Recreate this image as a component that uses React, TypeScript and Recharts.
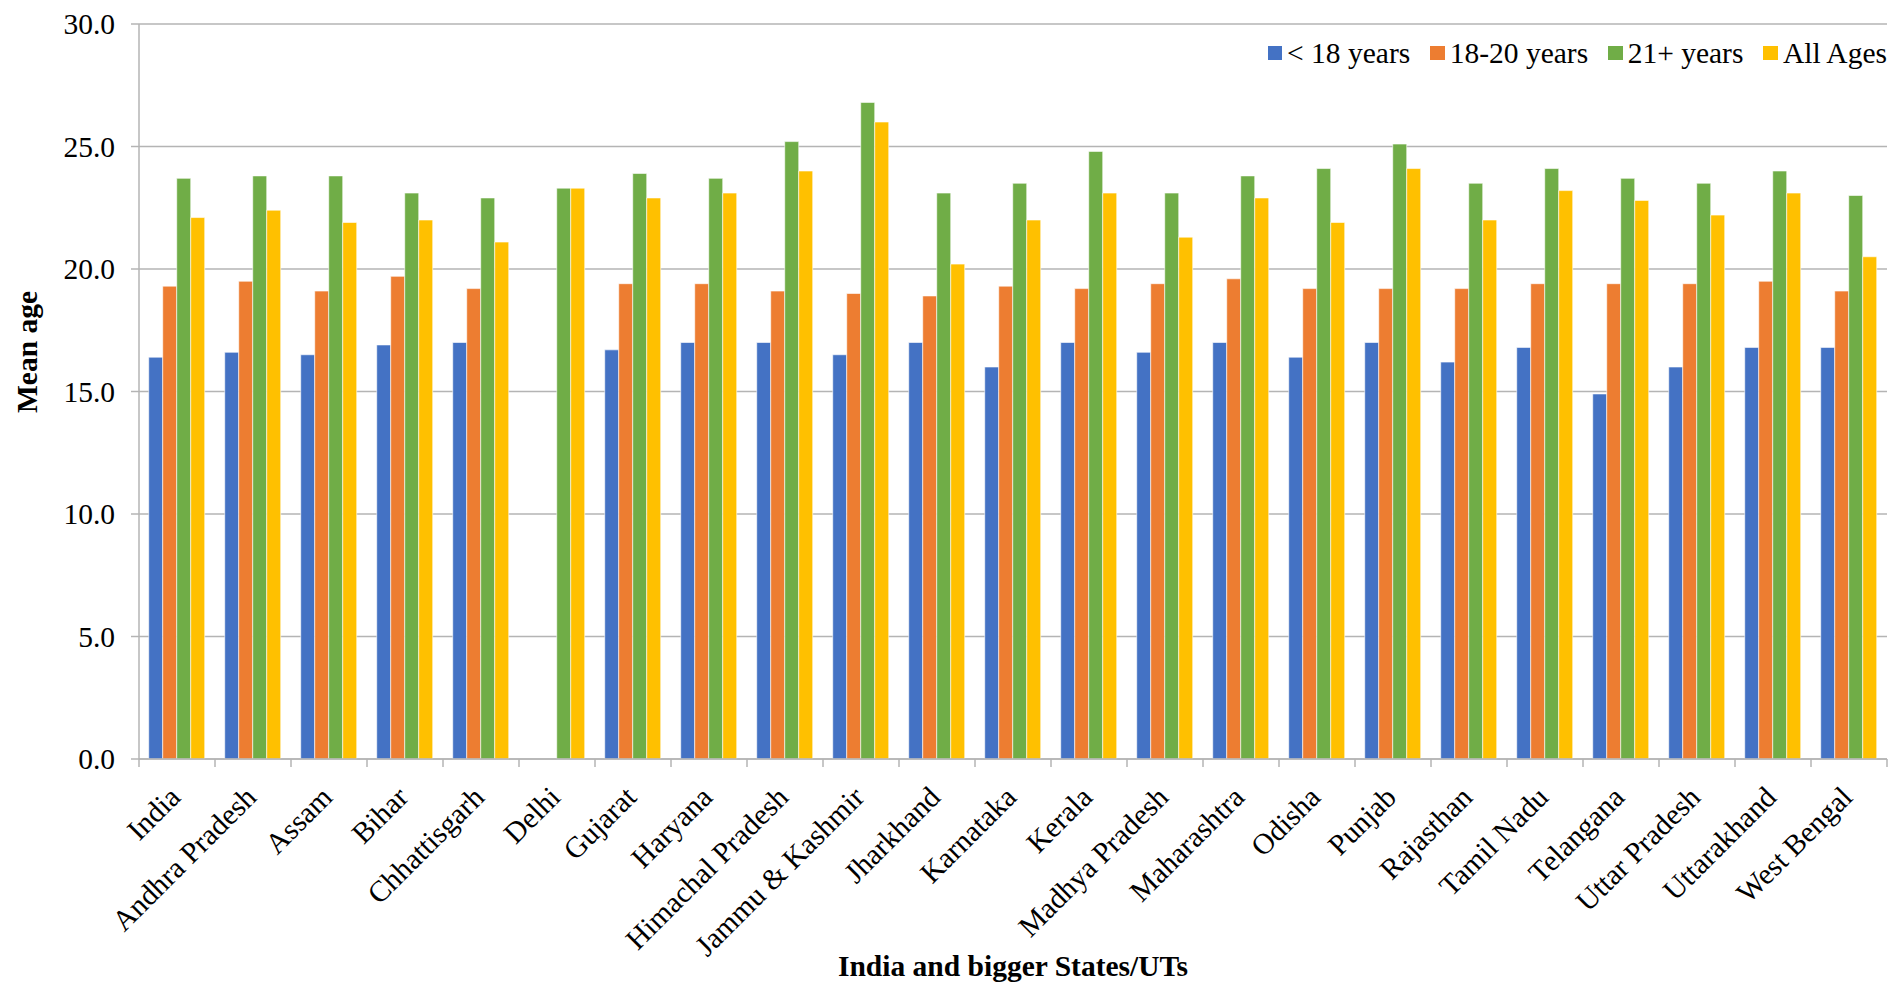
import React from 'react';
import { BarChart, Bar, XAxis, YAxis, CartesianGrid } from 'recharts';

if (typeof document !== 'undefined') {
  document.body.style.margin = '0';
}

const states = ['India', 'Andhra Pradesh', 'Assam', 'Bihar', 'Chhattisgarh', 'Delhi', 'Gujarat', 'Haryana', 'Himachal Pradesh', 'Jammu & Kashmir', 'Jharkhand', 'Karnataka', 'Kerala', 'Madhya Pradesh', 'Maharashtra', 'Odisha', 'Punjab', 'Rajasthan', 'Tamil Nadu', 'Telangana', 'Uttar Pradesh', 'Uttarakhand', 'West Bengal'];
const under18 = [16.4, 16.6, 16.5, 16.9, 17.0, null, 16.7, 17.0, 17.0, 16.5, 17.0, 16.0, 17.0, 16.6, 17.0, 16.4, 17.0, 16.2, 16.8, 14.9, 16.0, 16.8, 16.8];
const age18to20 = [19.3, 19.5, 19.1, 19.7, 19.2, null, 19.4, 19.4, 19.1, 19.0, 18.9, 19.3, 19.2, 19.4, 19.6, 19.2, 19.2, 19.2, 19.4, 19.4, 19.4, 19.5, 19.1];
const age21plus = [23.7, 23.8, 23.8, 23.1, 22.9, 23.3, 23.9, 23.7, 25.2, 26.8, 23.1, 23.5, 24.8, 23.1, 23.8, 24.1, 25.1, 23.5, 24.1, 23.7, 23.5, 24.0, 23.0];
const allAges = [22.1, 22.4, 21.9, 22.0, 21.1, 23.3, 22.9, 23.1, 24.0, 26.0, 20.2, 22.0, 23.1, 21.3, 22.9, 21.9, 24.1, 22.0, 23.2, 22.8, 22.2, 23.1, 20.5];
const yTicks = [0, 5, 10, 15, 20, 25, 30];

const seriesNames = ['< 18 years', '18-20 years', '21+ years', 'All Ages'];
const seriesKeys = ['u18', 'a1820', 'a21', 'all'];
const seriesColors = ['#4472C4', '#ED7D31', '#70AD47', '#FFC000'];

const data = states.map((s, i) => ({
  name: s,
  u18: under18[i],
  a1820: age18to20[i],
  a21: age21plus[i],
  all: allAges[i],
}));

const FONT = '"Liberation Serif", "Times New Roman", serif';
const FS = 29.5;
const W = 1893;
const H = 984;
const M = { top: 24, right: 6, left: 0, bottom: 0 };
const Y_W = 139;
const X_H = 225;
const BAND = (W - M.left - Y_W - M.right) / states.length;
const GRID = '#B4B4B4';
const GW = 1.5;

function XTick(props: any) {
  const { x, y, payload, index } = props;
  const lx = x - BAND / 2;
  const rx = x + BAND / 2;
  return (
    <g>
      <line x1={lx} y1={y} x2={lx} y2={y + 8} stroke={GRID} strokeWidth={GW} />
      {index === states.length - 1 && (
        <line x1={rx} y1={y} x2={rx} y2={y + 8} stroke={GRID} strokeWidth={GW} />
      )}
      <g transform={`translate(${x + 5},${y + 40})`}>
        <text x={0} y={0} textAnchor="end" transform="rotate(-45)" fontFamily={FONT} fontSize={FS} fill="#000">
          {payload.value}
        </text>
      </g>
    </g>
  );
}

function YTick(props: any) {
  const { x, y, payload } = props;
  return (
    <text x={x} y={y} dy="0.35em" textAnchor="end" fontFamily={FONT} fontSize={FS} fill="#000">
      {Number(payload.value).toFixed(1)}
    </text>
  );
}

function LegendBox() {
  return (
    <div style={{ position: 'absolute', top: 36, right: 6, display: 'flex', alignItems: 'center', fontFamily: FONT, fontSize: FS, color: '#000', lineHeight: '34px', whiteSpace: 'nowrap' }}>
      {seriesNames.map((n, i) => (
        <div key={n} style={{ display: 'flex', alignItems: 'center', marginLeft: i === 0 ? 0 : 20 }}>
          <span style={{ display: 'inline-block', width: 14.5, height: 14.5, background: seriesColors[i], marginRight: 5 }} />
          <span>{n}</span>
        </div>
      ))}
    </div>
  );
}

function YTitle(props: any) {
  const cx = 27;
  const cy = 352;
  return (
    <text x={cx} y={cy} transform={`rotate(-90 ${cx} ${cy})`} textAnchor="middle" dominantBaseline="central" fontFamily={FONT} fontSize={FS} fontWeight="bold" fill="#000">
      Mean age
    </text>
  );
}

export default function App() {
  return (
    <div style={{ position: 'relative', width: W, height: H, background: '#fff', fontFamily: FONT }}>
      <BarChart width={W} height={H} data={data} margin={M} barCategoryGap="12.8%" barGap={0}>
        <CartesianGrid vertical={false} stroke={GRID} strokeWidth={GW} />
        <XAxis
          dataKey="name"
          interval={0}
          height={X_H}
          tickSize={0}
          tickMargin={0}
          tickLine={false}
          axisLine={{ stroke: GRID, strokeWidth: GW }}
          tick={<XTick />}
          label={{ value: 'India and bigger States/UTs', position: 'insideBottom', offset: 8, style: { fontFamily: FONT, fontSize: FS, fontWeight: 'bold', fill: '#000' } }}
        />
        <YAxis
          width={Y_W}
          domain={[0, 30]}
          ticks={yTicks}
          interval={0}
          tickSize={8}
          tickMargin={16}
          tick={<YTick />}
          tickLine={{ stroke: GRID, strokeWidth: GW }}
          axisLine={{ stroke: GRID, strokeWidth: GW }}
          label={{ content: <YTitle /> }}
        />
        {seriesKeys.map((k, i) => (
          <Bar key={k} dataKey={k} name={seriesNames[i]} fill={seriesColors[i]} stroke="#ffffff" strokeWidth={0.6} isAnimationActive={false} />
        ))}
      </BarChart>
      <LegendBox />
    </div>
  );
}
